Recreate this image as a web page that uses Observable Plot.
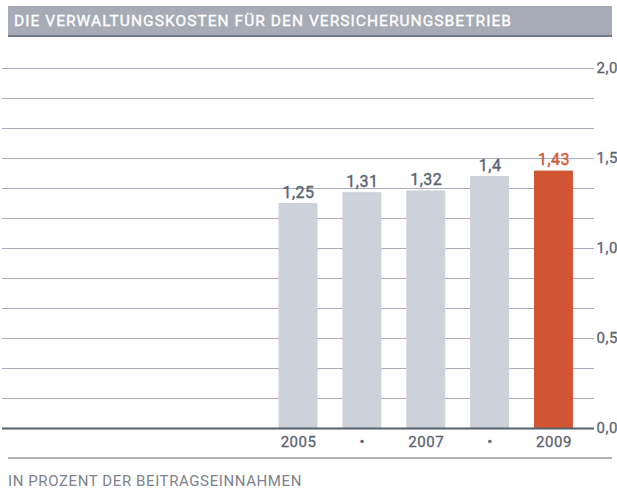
<!DOCTYPE html>
<html>
<head>
<meta charset="utf-8">
<script src="https://cdn.jsdelivr.net/npm/d3@7"></script>
<script src="https://cdn.jsdelivr.net/npm/@observablehq/plot@0.6"></script>
<style>
  html, body { margin: 0; padding: 0; background: #fff; width: 617px; height: 492px; overflow: hidden; }
  body { position: relative; font-family: Roboto, "DejaVu Sans", sans-serif; }
  #title {
    position: absolute; left: 8px; top: 6px; width: 598px; height: 29px;
    background: #a7abb6; border-bottom: 2px solid #6f7786;
    color: #fff; font-size: 15.5px; font-weight: 400; letter-spacing: 1.05px;
    -webkit-text-stroke: 0.35px #fff;
    line-height: 30px; padding-left: 6px; box-sizing: content-box; white-space: nowrap;
  }
  #chart { position: absolute; left: 0; top: 40px; }
  #caption {
    position: absolute; left: 8px; top: 457px; width: 604px;
    border-top: 2px solid #aeb2bd; color: #7d828c; font-size: 15px;
    padding-top: 13px; letter-spacing: 0.6px; white-space: nowrap;
  }
  #chart svg text { letter-spacing: 0.5px; }
  #chart svg g[aria-label$="tick label"] { stroke: #5b6270; stroke-width: 0.3px; }
</style>
</head>
<body>
<div id="title">DIE VERWALTUNGSKOSTEN FÜR DEN VERSICHERUNGSBETRIEB</div>
<div id="chart"></div>
<div id="caption">IN PROZENT DER BEITRAGSEINNAHMEN</div>
<script>
const years = [2001, 2002, 2003, 2004, 2005, 2006, 2007, 2008, 2009];
const valueYears = [2005, 2006, 2007, 2008, 2009];
const values = [1.25, 1.31, 1.32, 1.4, 1.43];
const valueLabels = ["1,25", "1,31", "1,32", "1,4", "1,43"];
const xTickLabels = {2005: "2005", 2006: "•", 2007: "2007", 2008: "•", 2009: "2009"};
const yTicks = [0, 0.5, 1, 1.5, 2];
const gridTicks = d3.range(1, 13).map(i => i / 6);
const highlightYear = 2009;

const data = valueYears.map((y, i) => ({year: y, value: values[i], label: valueLabels[i]}));
const grey = "#cdd1d9", red = "#d35634", textGrey = "#5b6270";

const plot = Plot.plot({
  width: 617,
  height: 418,
  marginLeft: 2,
  marginRight: 23,
  marginTop: 28,
  marginBottom: 30,
  style: {fontFamily: "Roboto, sans-serif", background: "transparent"},
  x: {domain: years, paddingInner: 0.39, paddingOuter: 0.33, round: false, label: null},
  y: {domain: [0, 2], label: null},
  marks: [
    Plot.ruleY(gridTicks, {stroke: "#a9adbb", strokeWidth: 1}),
    Plot.barY(data, {x: "year", y: "value", fill: d => d.year === highlightYear ? red : grey}),
    Plot.text(data, {x: "year", y: "value", text: "label", dy: -6, lineAnchor: "bottom",
      fill: d => d.year === highlightYear ? red : textGrey,
      stroke: d => d.year === highlightYear ? red : textGrey, strokeWidth: 0.4,
      fontSize: 16, fontWeight: 400}),
    Plot.ruleY([0], {stroke: "#56606c", strokeWidth: 2}),
    Plot.axisY({anchor: "right", ticks: yTicks, tickSize: 0, tickPadding: 2, textAnchor: "start",
      tickFormat: d => d.toFixed(1).replace(".", ","), fontSize: 15, fontWeight: 400, fill: textGrey, label: null}),
    Plot.axisX({anchor: "bottom", tickSize: 0, tickPadding: 8,
      tickFormat: d => xTickLabels[d] ?? "", fontSize: 15, fontWeight: 400, fill: textGrey, label: null})
  ]
});
document.getElementById("chart").appendChild(plot);
</script>
</body>
</html>
